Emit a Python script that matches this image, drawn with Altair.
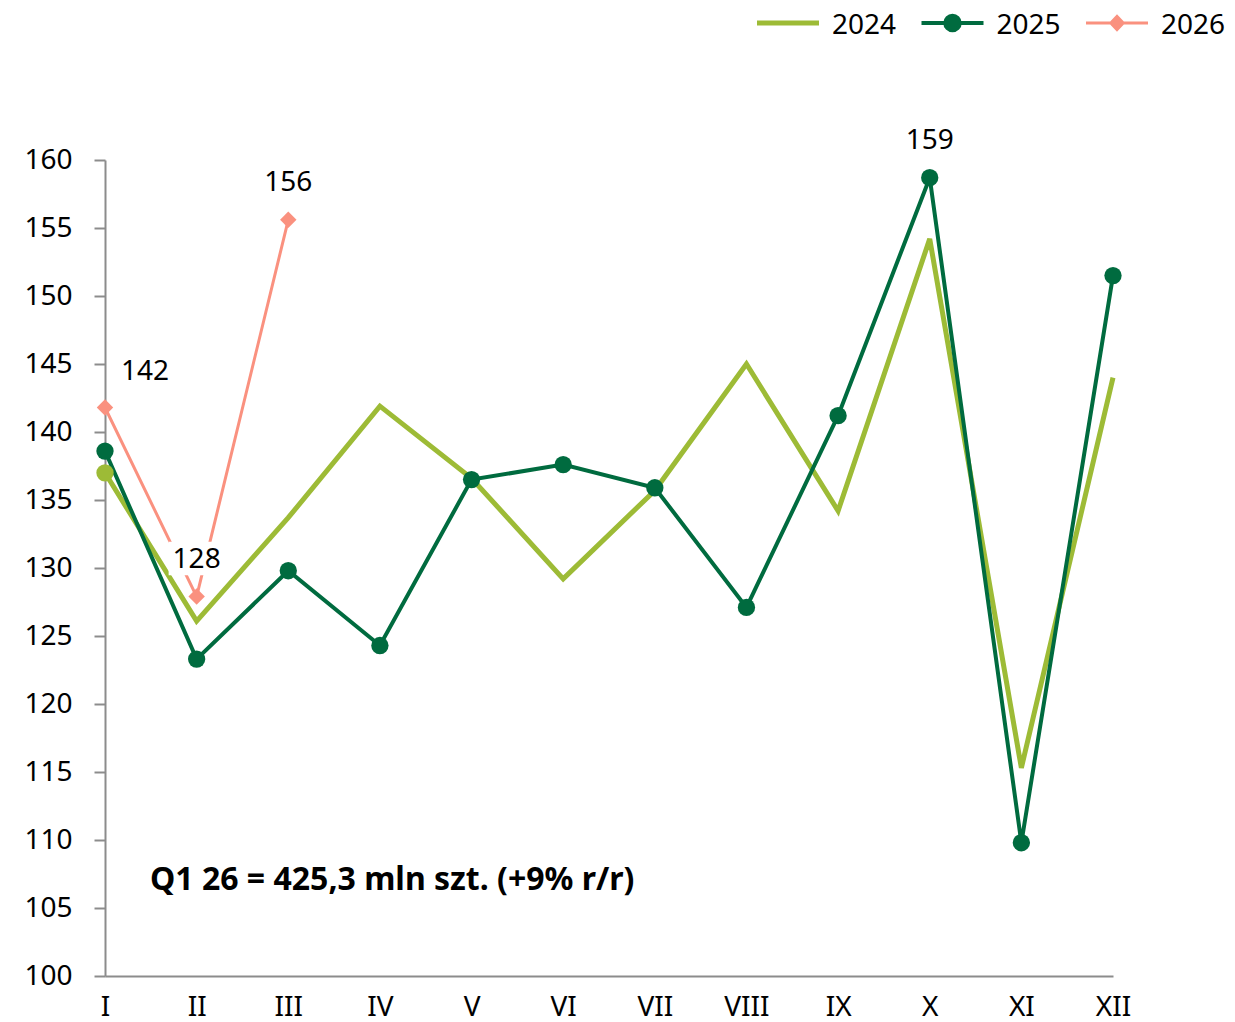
import altair as alt
import pandas as pd

# ---------------- data ----------------
months = ["I", "II", "III", "IV", "V", "VI", "VII", "VIII", "IX", "X", "XI", "XII"]
years = ["2024", "2025", "2026"]
v2024 = [137.0, 126.1, 133.7, 141.9, 136.6, 129.2, 135.7, 145.0, 134.2, 154.2, 115.3, 144.0]
v2025 = [138.6, 123.3, 129.8, 124.3, 136.5, 137.6, 135.9, 127.1, 141.2, 158.7, 109.8, 151.5]
v2026 = [141.8, 127.9, 155.6]
y_ticks = list(range(100, 161, 5))

label_months = ["I", "II", "III", "X"]
label_years = ["2026", "2026", "2026", "2025"]
label_texts = ["142", "128", "156", "159"]

annotation = "Q1 26 = 425,3 mln szt. (+9% r/r)"

# ---------------- styles ----------------
colors = ["#9DBB36", "#006B3F", "#FA917F"]
line_widths = [5, 3, 3.5]
FONT = "Noto Sans"
GRAY = "#8C8C8C"

series = {"2024": v2024, "2025": v2025, "2026": v2026}
rows = []
for yr, vals in series.items():
    for m, v in zip(months, vals):
        rows.append({"month": m, "year": yr, "value": v})
df = pd.DataFrame(rows)

df_circles = df[(df["year"] == "2025") | ((df["year"] == "2024") & (df["month"] == "I"))]
df_diamonds = df[df["year"] == "2026"]
df_legend = pd.DataFrame({"year": years})

lookup = {(r["month"], r["year"]): r["value"] for r in rows}
df_labels = pd.DataFrame({
    "month": label_months,
    "year": label_years,
    "text": label_texts,
    "value": [lookup[(m, y)] for m, y in zip(label_months, label_years)],
})

color_scale = alt.Scale(domain=years, range=colors)
width_scale = alt.Scale(domain=years, range=line_widths)

x_enc = alt.X(
    "month:N",
    sort=months,
    scale=alt.Scale(type="point", padding=0, domain=months),
    axis=alt.Axis(
        title=None, grid=False, ticks=False, tickSize=0, labelAngle=0, orient="bottom",
        labelPadding=17, labelFontSize=28, labelFont=FONT, labelColor="black",
        domainColor=GRAY, domainWidth=2,
    ),
)
y_enc = alt.Y(
    "value:Q",
    scale=alt.Scale(domain=[100, 160], nice=False, zero=False),
    axis=alt.Axis(
        title=None, grid=False, values=y_ticks, labelFontSize=28, labelFont=FONT,
        labelColor="black", tickColor=GRAY, tickSize=11, tickWidth=2,
        domainColor=GRAY, domainWidth=2, labelPadding=22,
    ),
)

lines = alt.Chart(df).mark_line().encode(
    x=x_enc,
    y=y_enc,
    color=alt.Color("year:N", scale=color_scale, legend=None),
    strokeWidth=alt.StrokeWidth("year:N", scale=width_scale, legend=None),
)

circles = alt.Chart(df_circles).mark_point(shape="circle", filled=True, opacity=1, size=300).encode(
    x=x_enc, y=y_enc,
    color=alt.Color("year:N", scale=color_scale, legend=None),
)

diamonds = alt.Chart(df_diamonds).mark_point(shape="diamond", filled=True, opacity=1, size=270).encode(
    x=x_enc, y=y_enc,
    color=alt.Color("year:N", scale=color_scale, legend=None),
)

box_path = "M-1,-0.6L1,-0.6L1,0.6L-1,0.6Z"
label_bg = alt.Chart(df_labels[df_labels["text"] == "128"]).mark_point(
    shape=box_path, filled=True, color="white", opacity=1, size=3136, yOffset=-38
).encode(x=x_enc, y=y_enc)

labels_main = alt.Chart(df_labels[df_labels["month"] != "I"]).mark_text(
    fontSize=28, font=FONT, color="black", dy=-37, baseline="middle"
).encode(x=x_enc, y=y_enc, text="text:N")

labels_first = alt.Chart(df_labels[df_labels["month"] == "I"]).mark_text(
    fontSize=28, font=FONT, color="black", dy=-36, dx=40, baseline="middle"
).encode(x=x_enc, y=y_enc, text="text:N")

note = alt.Chart(pd.DataFrame({"t": [annotation]})).mark_text(
    align="left", baseline="middle", fontSize=32, font=FONT, fontWeight="bold", color="black"
).encode(x=alt.value(45), y=alt.value(720), text="t:N")

main = alt.layer(lines, circles, diamonds, label_bg, labels_main, labels_first, note)

# ---------------- legend drawn from its own scale ----------------
line_path = "M-1,0L1,0"
circle_path = "M-1,0L1,0M-0.234,0A0.234,0.234,0,1,1,0.234,0A0.234,0.234,0,1,1,-0.234,0Z"
diamond_path = "M-1,0L1,0M-0.2,0L0,-0.21L0.2,0L0,0.21Z"
legend_paths = [line_path, circle_path, diamond_path]

leg_x = alt.X("year:N", scale=alt.Scale(type="point", padding=0, domain=years, range=[683, 1012]), axis=None)

leg_symbols = alt.Chart(df_legend).mark_point(filled=True, opacity=1, size=3844).encode(
    x=leg_x,
    y=alt.value(-137),
    shape=alt.Shape("year:N", scale=alt.Scale(domain=years, range=legend_paths), legend=None),
    fill=alt.Fill("year:N", scale=alt.Scale(domain=years, range=colors), legend=None),
    stroke=alt.Stroke("year:N", scale=alt.Scale(domain=years, range=colors), legend=None),
    strokeWidth=alt.StrokeWidth("year:N", scale=width_scale, legend=None),
)

leg_labels = alt.Chart(df_legend).mark_text(
    align="left", baseline="middle", dx=44, fontSize=28, font=FONT, color="black"
).encode(x=leg_x, y=alt.value(-134), text="year:N")

legend_layer = alt.layer(leg_symbols, leg_labels)

chart = alt.layer(main, legend_layer).resolve_scale(x="independent").properties(
    width=1008,
    height=816,
    autosize=alt.AutoSizeParams(type="none"),
    padding={"left": 97, "top": 152, "right": 114, "bottom": 46},
).configure(font=FONT, view=alt.ViewConfig(stroke=None))

chart.save("out.html", embed_options={"renderer": "svg", "actions": False})
